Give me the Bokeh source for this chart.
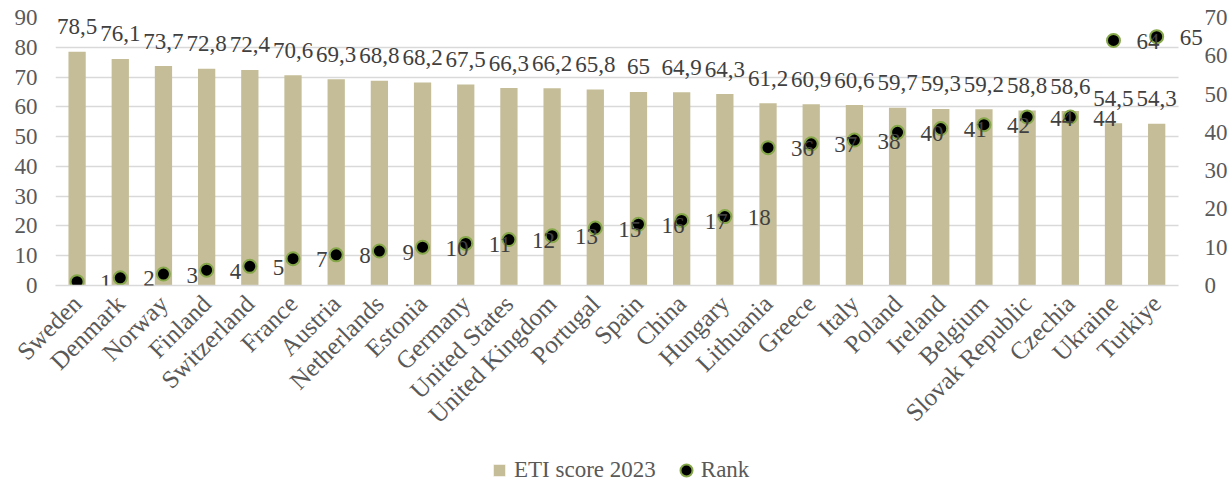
from bokeh.plotting import figure
from bokeh.layouts import column
from bokeh.models import (ColumnDataSource, Range1d, LinearAxis, LabelSet, FixedTicker,
                          Legend, LegendItem, SingleIntervalTicker)
from bokeh.embed import file_html
from bokeh.resources import INLINE
import math

countries = ["Sweden", "Denmark", "Norway", "Finland", "Switzerland", "France", "Austria",
             "Netherlands", "Estonia", "Germany", "United States", "United Kingdom", "Portugal",
             "Spain", "China", "Hungary", "Lithuania", "Greece", "Italy", "Poland", "Ireland",
             "Belgium", "Slovak Republic", "Czechia", "Ukraine", "Turkiye"]
eti_score = [78.5, 76.1, 73.7, 72.8, 72.4, 70.6, 69.3, 68.8, 68.2, 67.5, 66.3, 66.2, 65.8,
             65.0, 64.9, 64.3, 61.2, 60.9, 60.6, 59.7, 59.3, 59.2, 58.8, 58.6, 54.5, 54.3]
rank = [1, 2, 3, 4, 5, 7, 8, 9, 10, 11, 12, 13, 15, 16, 17, 18, 36, 37, 38, 40, 41, 42,
        44, 44, 64, 65]

FONT = "Liberation Serif"
FS = "23px"
BAR = "#C4BD97"
TXT = "#595959"
LBL = "#404040"
GRID = "#D9D9D9"
RING = "#86A84A"

def fmt(v):
    s = ("%.1f" % v).rstrip("0").rstrip(".")
    return s.replace(".", ",")

n = len(countries)
pos = list(range(n))
src = ColumnDataSource(dict(
    pos=pos, score=eti_score, rank=rank,
    score_lbl=[fmt(v) for v in eti_score], rank_lbl=[str(r) for r in rank]))

# category slots span -0.5 .. n-0.5; a little room on the right keeps the last rank label visible
x_lo, x_hi = -0.5, n - 0.5
p = figure(width=1231, height=445, x_range=Range1d(x_lo, x_hi + 0.7),
           y_range=Range1d(0, 90), output_backend="svg", toolbar_location=None,
           min_border_left=55, min_border_right=23, min_border_top=17, min_border_bottom=160)
p.outline_line_color = None
p.background_fill_color = "white"
p.border_fill_color = "white"
p.extra_y_ranges = {"rank": Range1d(0, 70)}

bars = p.vbar(x="pos", top="score", width=0.4, source=src, fill_color=BAR, line_color=None)
pts = p.scatter(x="pos", y="rank", y_range_name="rank", source=src, size=13,
                fill_color="black", line_color=RING, line_width=2)

# axes
p.xaxis.ticker = FixedTicker(ticks=pos)
p.xaxis.major_label_overrides = {i: c for i, c in zip(pos, countries)}
p.xaxis.bounds = (x_lo, x_hi)
p.xaxis.major_label_orientation = math.pi / 4
p.xaxis.axis_line_color = GRID
p.xaxis.axis_line_width = 1.5
p.xaxis.major_tick_line_color = None
p.xaxis.minor_tick_line_color = None
p.xaxis.major_label_standoff = 8

p.yaxis.ticker = SingleIntervalTicker(interval=10)
p.yaxis.axis_line_color = None
p.yaxis.major_tick_line_color = None
p.yaxis.minor_tick_line_color = None
p.yaxis.major_label_standoff = 12

right = LinearAxis(y_range_name="rank", ticker=SingleIntervalTicker(interval=10))
right.axis_line_color = None
right.major_tick_line_color = None
right.minor_tick_line_color = None
right.major_label_standoff = -10
p.add_layout(right, "right")

for ax in [p.xaxis[0], p.yaxis[0], right]:
    ax.major_label_text_font = FONT
    ax.major_label_text_font_size = FS
    ax.major_label_text_color = TXT
p.xaxis.major_label_text_font_size = "25px"

p.xgrid.grid_line_color = None
p.ygrid.grid_line_color = GRID
p.ygrid.grid_line_width = 1.5
p.ygrid.cross_bounds = (x_lo, x_hi)

score_labels = LabelSet(x="pos", y="score", text="score_lbl", source=src,
                        text_align="center", text_baseline="middle", y_offset=25,
                        text_font=FONT, text_font_size=FS, text_color=LBL)
rank_labels = LabelSet(x="pos", y="rank", text="rank_lbl", source=src, y_range_name="rank",
                       text_align="left", text_baseline="middle", x_offset=23, y_offset=-1,
                       text_font=FONT, text_font_size=FS, text_color=LBL)
p.add_layout(score_labels)
p.add_layout(rank_labels)

# legend strip below the chart
lf = figure(width=1231, height=40, output_backend="svg", toolbar_location=None,
            x_axis_location=None, y_axis_location=None,
            min_border_left=0, min_border_right=0, min_border_top=0, min_border_bottom=0)
lf.outline_line_color = None
lf.xgrid.grid_line_color = None
lf.ygrid.grid_line_color = None
sq = lf.scatter(x="pos", y="rank", source=src, marker="square",
                fill_color=BAR, line_color="white", line_width=0.5, visible=False)
ci = lf.scatter(x="pos", y="rank", source=src, marker="circle",
                fill_color="black", line_color=RING, line_width=2, visible=False)
legend = Legend(items=[LegendItem(label="ETI score 2023", renderers=[sq], index=0),
                       LegendItem(label="Rank", renderers=[ci], index=0)],
                orientation="horizontal", location=(429, 0),
                glyph_width=30, glyph_height=30, label_standoff=-6, spacing=15,
                padding=0, margin=0, border_line_color=None, background_fill_alpha=0,
                label_text_font=FONT, label_text_font_size=FS, label_text_color=TXT)
lf.add_layout(legend, "center")

open("out.html", "w").write(file_html(column(p, lf, spacing=0), INLINE))
